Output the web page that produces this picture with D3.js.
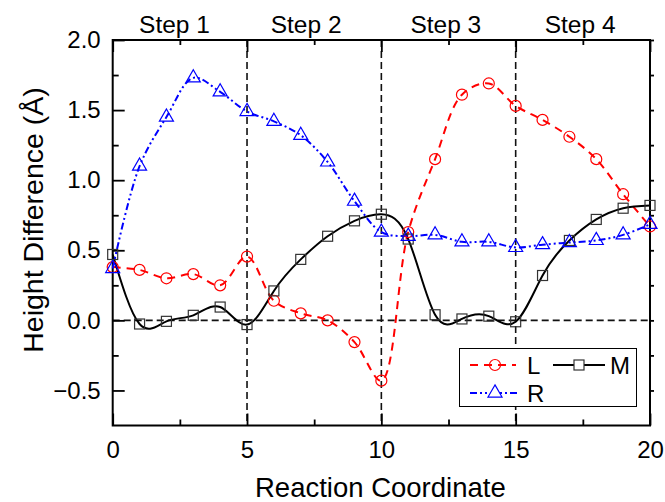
<!DOCTYPE html>
<html>
<head>
<meta charset="utf-8">
<script src="https://cdn.jsdelivr.net/npm/d3@7"></script>
<style>
  body { margin: 0; background: #fff; }
  svg { display: block; font-family: "Liberation Sans", Arial, sans-serif; }
</style>
</head>
<body>
<div id="chart"></div>
<script>
// reaction coordinate (images) and height differences
const coords = [0, 1, 2, 3, 4, 5, 6, 7, 8, 9, 10, 11, 12, 13, 14, 15, 16, 17, 18, 19, 20];
const seriesL = [0.38, 0.36, 0.30, 0.33, 0.25, 0.455, 0.14, 0.05, 0.00, -0.155, -0.43, 0.63, 1.15, 1.61, 1.69, 1.53, 1.43, 1.31, 1.15, 0.90, 0.67];
const seriesM = [0.47, -0.026, -0.007, 0.036, 0.095, -0.03, 0.21, 0.435, 0.60, 0.71, 0.757, 0.58, 0.04, 0.01, 0.03, -0.01, 0.32, 0.57, 0.72, 0.80, 0.82];
const seriesR = [0.37, 1.10, 1.45, 1.73, 1.63, 1.49, 1.42, 1.32, 1.13, 0.85, 0.63, 0.60, 0.61, 0.56, 0.56, 0.52, 0.54, 0.555, 0.57, 0.61, 0.685];

const xTicks = [0, 5, 10, 15, 20];
const xMinorTicks = [2.5, 7.5, 12.5, 17.5];
const yTicks = [-0.5, 0.0, 0.5, 1.0, 1.5, 2.0];
const yMinorTicks = [-0.25, 0.25, 0.75, 1.25, 1.75];
const stepBounds = [5, 10, 15];
const stepLabels = ['Step 1', 'Step 2', 'Step 3', 'Step 4'];
const stepCenters = [2.3, 7.2, 12.4, 17.4];

const width = 665;
const height = 502;
const pLeft = 112.7, pRight = 650, pTop = 40, pBottom = 425.5;

const svg = d3.select('#chart')
              .append('svg')
              .attr('width', width)
              .attr('height', height);

const x = d3.scaleLinear().domain([0, 20]).range([pLeft, pRight]);
const y = d3.scaleLinear().domain([-0.75, 2.0]).range([pBottom, pTop]);

// dashed guides
svg.selectAll('.vguide')
   .data(stepBounds)
   .enter()
   .append('line')
   .attr('x1', (d) => x(d)).attr('x2', (d) => x(d))
   .attr('y1', pTop).attr('y2', pBottom)
   .attr('stroke', '#111').attr('stroke-width', 1.6)
   .attr('stroke-dasharray', '7,4');

svg.append('line')
   .attr('x1', pLeft).attr('x2', pRight)
   .attr('y1', y(0)).attr('y2', y(0))
   .attr('stroke', '#111').attr('stroke-width', 1.6)
   .attr('stroke-dasharray', '7,4');

// axes
const styleAxis = (g) => {
  g.select('.domain').remove();
  g.selectAll('line').attr('stroke', '#000').attr('stroke-width', 1.8);
  g.selectAll('text').attr('fill', '#000').style('font-size', '24px');
};

svg.append('g')
   .attr('transform', 'translate(0,' + pBottom + ')')
   .call(d3.axisBottom(x).tickValues(xTicks).tickSize(-12).tickPadding(15).tickFormat(d3.format('d')))
   .call(styleAxis);
svg.append('g')
   .attr('transform', 'translate(0,' + pBottom + ')')
   .call(d3.axisBottom(x).tickValues(xMinorTicks).tickSize(-6).tickFormat(''))
   .call(styleAxis);
svg.append('g')
   .attr('transform', 'translate(0,' + pTop + ')')
   .call(d3.axisTop(x).tickValues(xTicks).tickSize(-12).tickFormat(''))
   .call(styleAxis);
svg.append('g')
   .attr('transform', 'translate(0,' + pTop + ')')
   .call(d3.axisTop(x).tickValues(xMinorTicks).tickSize(-5).tickFormat(''))
   .call(styleAxis);

svg.append('g')
   .attr('transform', 'translate(' + pLeft + ',0)')
   .call(d3.axisLeft(y).tickValues(yTicks).tickSize(-12).tickPadding(12).tickFormat(d3.format('.1f')))
   .call(styleAxis);
svg.append('g')
   .attr('transform', 'translate(' + pLeft + ',0)')
   .call(d3.axisLeft(y).tickValues(yMinorTicks).tickSize(-6).tickFormat(''))
   .call(styleAxis);
svg.append('g')
   .attr('transform', 'translate(' + pRight + ',0)')
   .call(d3.axisRight(y).tickValues(yTicks.concat(yMinorTicks)).tickSize(4).tickFormat(''))
   .call(styleAxis);

// frame
svg.append('rect')
   .attr('x', pLeft).attr('y', pTop)
   .attr('width', pRight - pLeft).attr('height', pBottom - pTop)
   .attr('fill', 'none').attr('stroke', '#000').attr('stroke-width', 2);

// series
const lineOf = (vals, curve) => d3.line()
  .x((d, i) => x(coords[i]))
  .y((d) => y(d))
  .curve(curve)(vals);

svg.append('path')
   .attr('d', lineOf(seriesL, d3.curveCatmullRom))
   .attr('fill', 'none').attr('stroke', '#ff0000').attr('stroke-width', 2)
   .attr('stroke-dasharray', '8,6');
svg.append('path')
   .attr('d', lineOf(seriesM, d3.curveNatural))
   .attr('fill', 'none').attr('stroke', '#000').attr('stroke-width', 2);
svg.append('path')
   .attr('d', lineOf(seriesR, d3.curveCatmullRom))
   .attr('fill', 'none').attr('stroke', '#0000ff').attr('stroke-width', 2)
   .attr('stroke-dasharray', '7,3,2,3,2,3');

const tri = d3.symbol().type(d3.symbolTriangle).size(85)();

svg.selectAll('.mL')
   .data(seriesL)
   .enter()
   .append('circle')
   .attr('cx', (d, i) => x(coords[i]))
   .attr('cy', (d) => y(d))
   .attr('r', 5.5)
   .attr('fill', 'none').attr('stroke', '#ff0000').attr('stroke-width', 1.2);

svg.selectAll('.mM')
   .data(seriesM)
   .enter()
   .append('rect')
   .attr('x', (d, i) => x(coords[i]) - 5)
   .attr('y', (d) => y(d) - 5)
   .attr('width', 10).attr('height', 10)
   .attr('fill', 'none').attr('stroke', '#333').attr('stroke-width', 1.2);

svg.selectAll('.mR')
   .data(seriesR)
   .enter()
   .append('path')
   .attr('d', tri)
   .attr('transform', (d, i) => 'translate(' + x(coords[i]) + ',' + y(d) + ')')
   .attr('fill', 'none').attr('stroke', '#0000ff').attr('stroke-width', 1.2);

// step labels
svg.selectAll('.step')
   .data(stepLabels)
   .enter()
   .append('text')
   .attr('x', (d, i) => x(stepCenters[i]))
   .attr('y', 33)
   .attr('text-anchor', 'middle')
   .style('font-size', '24.5px')
   .text((d) => d);

// axis titles
svg.append('text')
   .attr('x', (pLeft + pRight) / 2 - 1)
   .attr('y', 497)
   .attr('text-anchor', 'middle')
   .style('font-size', '27.5px')
   .text('Reaction Coordinate');

svg.append('text')
   .attr('transform', 'translate(43,220) rotate(-90)')
   .attr('text-anchor', 'middle')
   .style('font-size', '28.5px')
   .text('Height Difference (Å)');

// legend
const legend = svg.append('g');
legend.append('rect')
      .attr('x', 459.5).attr('y', 348.5)
      .attr('width', 177).attr('height', 58)
      .attr('fill', '#fff').attr('stroke', '#000').attr('stroke-width', 1);

const row1 = 365, row2 = 393;
legend.append('line')
      .attr('x1', 470).attr('x2', 516).attr('y1', row1).attr('y2', row1)
      .attr('stroke', '#ff0000').attr('stroke-width', 2).attr('stroke-dasharray', '8,6');
legend.append('circle')
      .attr('cx', 495).attr('cy', row1).attr('r', 5.5)
      .attr('fill', 'none').attr('stroke', '#ff0000').attr('stroke-width', 1.2);
legend.append('text').attr('x', 527).attr('y', row1 + 9).style('font-size', '24px').text('L');

legend.append('line')
      .attr('x1', 553).attr('x2', 605).attr('y1', row1).attr('y2', row1)
      .attr('stroke', '#000').attr('stroke-width', 2);
legend.append('rect')
      .attr('x', 574).attr('y', row1 - 5).attr('width', 10).attr('height', 10)
      .attr('fill', '#fff').attr('stroke', '#333').attr('stroke-width', 1.2);
legend.append('text').attr('x', 610).attr('y', row1 + 9).style('font-size', '24px').text('M');

legend.append('line')
      .attr('x1', 470).attr('x2', 520).attr('y1', row2).attr('y2', row2)
      .attr('stroke', '#0000ff').attr('stroke-width', 2).attr('stroke-dasharray', '7,3,2,3,2,3');
legend.append('path')
      .attr('d', tri)
      .attr('transform', 'translate(495,' + row2 + ')')
      .attr('fill', '#fff').attr('stroke', '#0000ff').attr('stroke-width', 1.2);
legend.append('text').attr('x', 527).attr('y', row2 + 9).style('font-size', '24px').text('R');
</script>
</body>
</html>
